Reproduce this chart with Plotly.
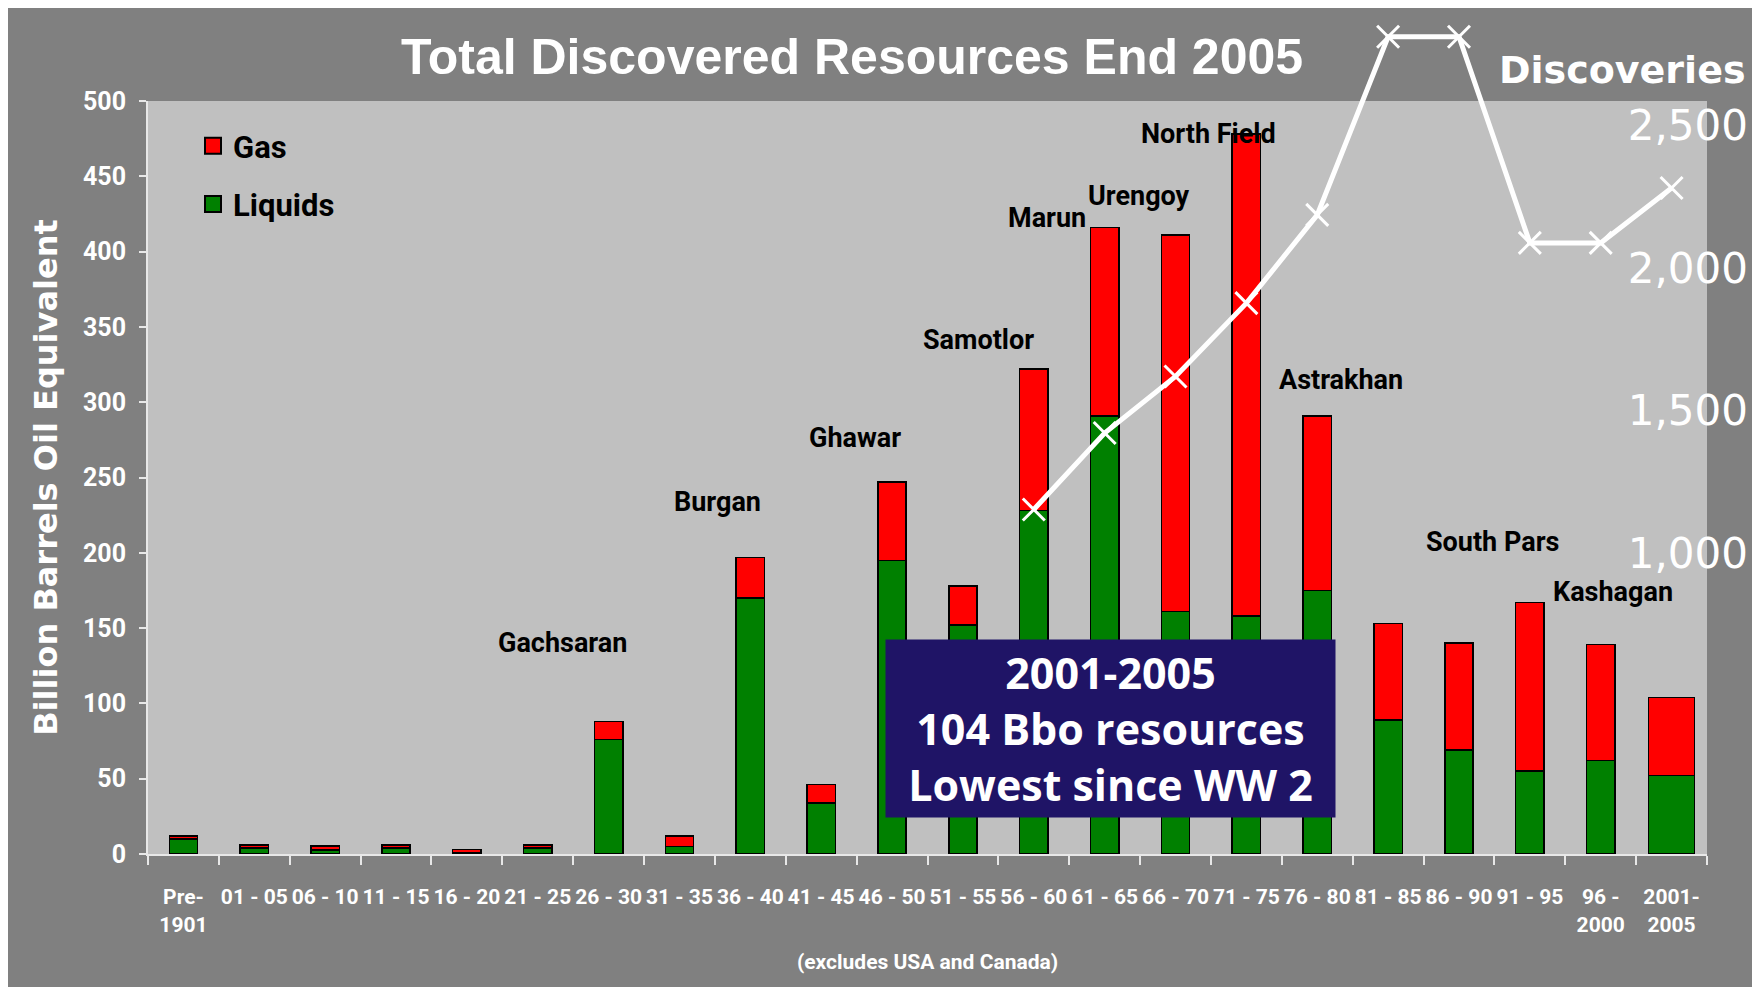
import plotly.graph_objects as go

# data
categories = ["Pre-1901", "01 - 05", "06 - 10", "11 - 15", "16 - 20", "21 - 25",
              "26 - 30", "31 - 35", "36 - 40", "41 - 45", "46 - 50", "51 - 55",
              "56 - 60", "61 - 65", "66 - 70", "71 - 75", "76 - 80", "81 - 85",
              "86 - 90", "91 - 95", "96 - 2000", "2001 - 2005"]
tick_labels = ["Pre-<br>1901", "01 - 05", "06 - 10", "11 - 15", "16 - 20", "21 - 25",
               "26 - 30", "31 - 35", "36 - 40", "41 - 45", "46 - 50", "51 - 55",
               "56 - 60", "61 - 65", "66 - 70", "71 - 75", "76 - 80", "81 - 85",
               "86 - 90", "91 - 95", "96 -<br>2000", "2001-<br>2005"]
liquids = [10, 4, 2.6, 4, 1, 4, 76, 5, 170, 34, 195, 152,
           228, 291, 161, 158, 175, 89, 69, 55, 62, 52]
gas = [2, 2, 2.7, 2, 2, 2, 12, 7, 27, 12, 52, 26,
       94, 125, 250, 320, 116, 64, 71, 112, 77, 52]

discovery_periods = categories[12:]
discoveries = [1154, 1422, 1620, 1877, 2186, 2810, 2810, 2088, 2088, 2280]

field_names = ["Gachsaran", "Burgan", "Ghawar", "Samotlor", "Marun", "Urengoy",
               "North Field", "Astrakhan", "South Pars", "Kashagan"]

y_ticks = list(range(0, 501, 50))
grid_ticks = list(range(50, 451, 50))
discovery_ticks = [1000, 1500, 2000, 2500]

# label placement (category index, y value) - layout only
field_label_pos = [(5.35, 140), (7.54, 234), (9.47, 276), (11.22, 341), (12.18, 422),
                   (13.49, 437), (14.46, 478), (16.34, 315), (18.47, 207), (20.18, 174)]

GREY_OUT = '#808080'
GREY_IN = '#C0C0C0'
NARROW = 'Liberation Sans Narrow, Arial Narrow, Roboto, sans-serif'

W, H = 1760, 987
M_L, M_R, M_T, M_B = 140, 20, 0, 141
paper_w = W - M_L - M_R
paper_h = H - M_T - M_B
plot_right = 1699
plot_top = 93


def px_x(px):
    return (px - M_L) / paper_w


def px_y(py):
    return (paper_h - (py - M_T)) / paper_h


bar_widths = [0.4] * (len(categories) - 1) + [0.65]

fig = go.Figure()
fig.add_trace(go.Bar(
    x=categories, y=liquids, name='Liquids', width=bar_widths,
    marker=dict(color='#008000', line=dict(color='black', width=1.5)),
    showlegend=False,
))
fig.add_trace(go.Bar(
    x=categories, y=gas, name='Gas', width=bar_widths,
    marker=dict(color='#FF0000', line=dict(color='black', width=1.5)),
    showlegend=False,
))

# legend entries
for name, color in [('Gas', '#FF0000'), ('Liquids', '#008000')]:
    fig.add_trace(go.Scatter(
        x=[categories[0]], y=[None], mode='markers', name=name, legendgroup=name,
        marker=dict(symbol='square', size=16, color=color, line=dict(color='black', width=2)),
    ))

fig.add_trace(go.Scatter(
    x=discovery_periods, y=discoveries, yaxis='y3', mode='lines+markers',
    line=dict(color='white', width=5),
    marker=dict(symbol='x-thin', size=22, color='white', line=dict(color='white', width=3)),
    showlegend=False, cliponaxis=False,
))

for name, (cx, cy) in zip(field_names, field_label_pos):
    fig.add_annotation(x=cx, y=cy, xref='x', yref='y', text=name, showarrow=False,
                       font=dict(family=NARROW, size=27, color='black', weight='bold'))

fig.add_annotation(
    x=13.08, y=83.2, xref='x', yref='y', showarrow=False,
    text='2001-2005<br>104 Bbo resources<br>Lowest since WW 2',
    width=449, height=177, borderpad=0, bgcolor='#1f1466',
    font=dict(family='Open Sans', size=43, color='white', weight='bold'),
)

fig.add_annotation(
    x=px_x(1614), y=px_y(62), xref='paper', yref='paper', showarrow=False,
    text='Discoveries', xanchor='center', yanchor='middle',
    font=dict(family='DejaVu Sans', size=38, color='white', weight='bold'),
)

x_dom_end = (plot_right - M_L) / paper_w
y_dom_end = px_y(plot_top)

# light plot area
fig.add_shape(type='rect', xref='x domain', yref='y domain', x0=0, x1=1, y0=0, y1=1,
              fillcolor=GREY_IN, line_width=0, layer='below')

# right axis scale: 500 discoveries = 143 px, 2000 sits at y=260
d_per_px = 500 / 142.75
y3_range = [2000 - (M_T + paper_h - 260) * d_per_px, 2000 + (260 - M_T) * d_per_px]

fig.update_layout(
    width=W, height=H,
    margin=dict(l=M_L, r=M_R, t=M_T, b=M_B, pad=0, autoexpand=False),
    paper_bgcolor=GREY_OUT, plot_bgcolor='rgba(0,0,0,0)',
    barmode='stack',
    title=dict(text='Total Discovered Resources End 2005', x=844 / W, y=1 - 48 / H,
               xref='container', yref='container', xanchor='center', yanchor='middle',
               automargin=False,
               font=dict(family='Liberation Sans', size=50, color='white', weight='bold')),
    legend=dict(x=px_x(185), y=px_y(111), xanchor='left', yanchor='top',
                bgcolor=GREY_IN, tracegroupgap=15, itemsizing='trace',
                font=dict(family=NARROW, size=31, color='black', weight='bold')),
    xaxis=dict(
        domain=[0, x_dom_end], type='category', categoryorder='array', categoryarray=categories,
        range=[-0.5, len(categories) - 0.5], automargin=False,
        tickmode='array', tickvals=categories, ticktext=tick_labels, tickangle=0,
        tickson='boundaries', ticks='outside', ticklen=9, tickwidth=1.5, tickcolor='#E8E8E8',
        showline=True, linecolor='#E8E8E8', linewidth=2, ticklabelstandoff=23,
        tickfont=dict(family=NARROW, size=21, color='white', weight='bold'),
        showgrid=False, anchor='y',
        title=dict(text='(excludes USA and Canada)', standoff=19,
                   font=dict(family=NARROW, size=21, color='white', weight='bold')),
    ),
    yaxis=dict(
        domain=[0, y_dom_end], range=[0, 500], tickvals=y_ticks, automargin=False,
        ticks='outside', ticklen=7, tickwidth=1.5, tickcolor='#E8E8E8',
        showline=True, linecolor='#E8E8E8', linewidth=2,
        showgrid=False, zeroline=False, ticklabelstandoff=8,
        tickfont=dict(family=NARROW, size=25, color='white', weight='bold'),
        title=dict(text='Billion Barrels Oil Equivalent', standoff=16,
                   font=dict(family='DejaVu Sans', size=32, color='white', weight='bold')),
    ),
    # grid lines only between 50 and 450, as in the reference
    yaxis2=dict(
        overlaying='y', anchor='x', side='left', range=[0, 500], tickvals=grid_ticks,
        showticklabels=False, ticks='', showline=False, zeroline=False, automargin=False,
        showgrid=True, gridcolor='#222222', gridwidth=1.5,
    ),
    # discoveries scale: labels sit just left of the right edge of the picture
    yaxis3=dict(
        domain=[0, 1], range=y3_range, anchor='free', position=1.0, side='left',
        tickvals=discovery_ticks, tickformat=',', ticks='', showgrid=False, automargin=False,
        zeroline=False, showline=False, ticklabelposition='outside',
        tickfont=dict(family='DejaVu Sans', size=42, color='white'),
    ),
)

fig.write_html("out.html")
